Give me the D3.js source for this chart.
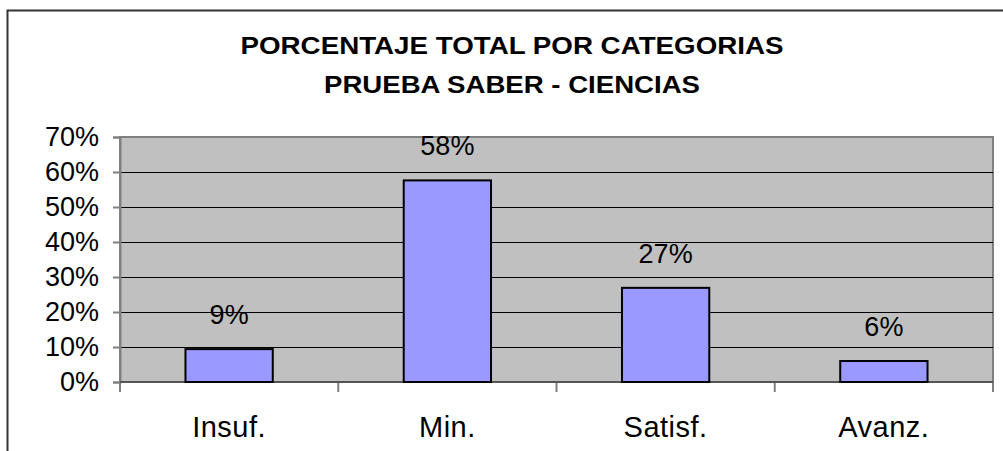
<!DOCTYPE html>
<html>
<head>
<meta charset="utf-8">
<script src="https://cdn.jsdelivr.net/npm/d3@7"></script>
<style>
  body { margin: 0; background: #fff; }
  svg { display: block; font-family: "Liberation Sans", Arial, sans-serif; }
</style>
</head>
<body>
<svg id="chart" width="1003" height="451"></svg>
<script>
// données du graphique
var categories = ["Insuf.", "Min.", "Satisf.", "Avanz."];
var valeurs = [9.4, 57.6, 26.9, 6.0];
var etiquettes = ["9%", "58%", "27%", "6%"];
var ticksY = [0, 10, 20, 30, 40, 50, 60, 70];
var titres = ["PORCENTAJE TOTAL POR CATEGORIAS", "PRUEBA SABER - CIENCIAS"];

var svg = d3.select("#chart");

// zone de tracé
var plot = {left: 120, top: 137, right: 993, bottom: 382};
// largeur des lignes du titre (mesurée sur l'image)
var largeurTitre = [543, 376];

var x = d3.scaleBand()
  .domain(categories)
  .range([plot.left, plot.right])
  .paddingInner(0.6)
  .paddingOuter(0.3);

var y = d3.scaleLinear()
  .domain([0, 70])
  .range([plot.bottom, plot.top]);

// cadre extérieur (déborde à droite et en bas)
svg.append("path")
  .attr("d", "M7.5,460 L7.5,10.5 L1010,10.5")
  .style("fill", "none")
  .style("stroke", "#333")
  .style("stroke-width", 2);

// titre
svg.selectAll(".titre")
  .data(titres)
  .enter()
  .append("text")
  .attr("class", "titre")
  .attr("x", 512)
  .attr("y", function(d, i) { return 54 + i * 39; })
  .attr("text-anchor", "middle")
  .attr("textLength", function(d, i) { return largeurTitre[i]; })
  .attr("lengthAdjust", "spacingAndGlyphs")
  .style("font-weight", "bold")
  .style("font-size", "24.5px")
  .text(function(d) { return d; });

// fond gris de la zone de tracé
svg.append("rect")
  .attr("x", plot.left)
  .attr("y", plot.top)
  .attr("width", plot.right - plot.left)
  .attr("height", plot.bottom - plot.top)
  .style("fill", "#c0c0c0")
  .style("stroke", "#808080")
  .style("stroke-width", 2);

// lignes de grille
svg.selectAll(".grille")
  .data(ticksY.filter(function(d) { return d > 0 && d < 70; }))
  .enter()
  .append("line")
  .attr("x1", plot.left)
  .attr("x2", plot.right)
  .attr("y1", function(d) { return Math.round(y(d)) + 0.5; })
  .attr("y2", function(d) { return Math.round(y(d)) + 0.5; })
  .style("stroke", "#000")
  .style("stroke-width", 1);

// axe Y
var axeY = svg.append("g")
  .attr("transform", "translate(" + plot.left + ",0)")
  .call(d3.axisLeft(y).tickValues(ticksY).tickSize(7).tickPadding(14)
        .tickFormat(function(d) { return d + "%"; }));
axeY.select(".domain").style("stroke", "#808080").style("stroke-width", 2);
axeY.selectAll(".tick line").style("stroke", "#808080").style("stroke-width", 2);
axeY.selectAll("text")
  .style("font-family", "Liberation Sans, Arial, sans-serif")
  .style("font-size", "27px")
  .style("fill", "#000");

// axe X : graduations entre les catégories
var bornes = categories.map(function(c) { return x(c) - x.step() * x.paddingInner() / 2; });
bornes.push(plot.right);
svg.selectAll(".tickX")
  .data(bornes)
  .enter()
  .append("line")
  .attr("x1", function(d) { return d; })
  .attr("x2", function(d) { return d; })
  .attr("y1", plot.bottom)
  .attr("y2", plot.bottom + 10)
  .style("stroke", "#808080")
  .style("stroke-width", 2);

svg.append("line")
  .attr("x1", plot.left)
  .attr("x2", plot.right)
  .attr("y1", plot.bottom)
  .attr("y2", plot.bottom)
  .style("stroke", "#555")
  .style("stroke-width", 2);

// libellés des catégories
svg.selectAll(".cat")
  .data(categories)
  .enter()
  .append("text")
  .attr("class", "cat")
  .attr("x", function(d) { return x(d) + x.bandwidth() / 2; })
  .attr("y", 437)
  .attr("text-anchor", "middle")
  .style("font-size", "29px")
  .style("letter-spacing", "0.5px")
  .text(function(d) { return d; });

// barres
svg.selectAll(".barre")
  .data(valeurs)
  .enter()
  .append("rect")
  .attr("class", "barre")
  .attr("x", function(d, i) { return x(categories[i]); })
  .attr("y", function(d) { return y(d); })
  .attr("width", x.bandwidth())
  .attr("height", function(d) { return plot.bottom - y(d); })
  .style("fill", "#9999ff")
  .style("stroke", "#000")
  .style("stroke-width", 2);

// étiquettes de valeur
svg.selectAll(".etiq")
  .data(valeurs)
  .enter()
  .append("text")
  .attr("class", "etiq")
  .attr("x", function(d, i) { return x(categories[i]) + x.bandwidth() / 2; })
  .attr("y", function(d) { return y(d) - 25; })
  .attr("text-anchor", "middle")
  .style("font-size", "27px")
  .text(function(d, i) { return etiquettes[i]; });
</script>
</body>
</html>
